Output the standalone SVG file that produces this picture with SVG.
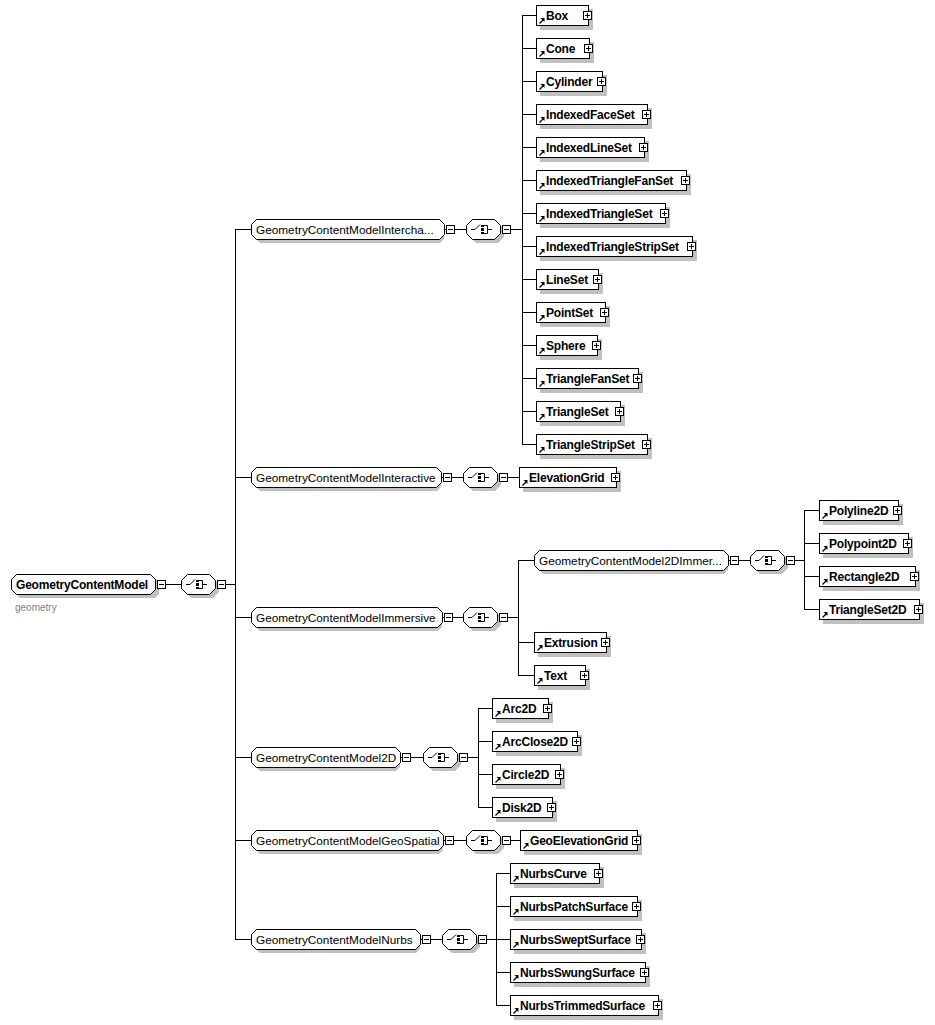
<svg xmlns="http://www.w3.org/2000/svg" xmlns:xlink="http://www.w3.org/1999/xlink" width="935" height="1025" viewBox="0 0 935 1025">
<style>
.sh{fill:#c0c0c0;stroke:none}
.bx{fill:#fff;stroke:#000;stroke-width:1}
.ln{fill:none;stroke:#000;stroke-width:1}
.el{font-family:"Liberation Sans",Arial,sans-serif;font-size:12px;font-weight:bold;letter-spacing:-0.2px;fill:#000}
.gl{font-family:"Liberation Sans",Arial,sans-serif;font-size:11.8px;fill:#000}
.rt{font-family:"Liberation Sans",Arial,sans-serif;font-size:12px;font-weight:bold;letter-spacing:-0.2px;fill:#000}
.ns{font-family:"Liberation Sans",Arial,sans-serif;font-size:10px;fill:#808080}
</style>
<defs>
<g id="plus"><rect class="bx" x="0.5" y="-3.5" width="8" height="8"/><path class="ln" d="M2 0.5H7M4.5 -2V3"/></g>
<g id="minus"><rect class="bx" x="0.5" y="-3.5" width="8" height="8"/><path class="ln" d="M2 0.5H7"/></g>
<g id="ref"><path d="M3.5 8.5L7 5" stroke="#000" stroke-width="1.3" fill="none"/><polygon points="4.5,3 8.5,3 8.5,7" fill="#000"/></g>
<g id="seq">
<path class="sh" d="M10 -6H32L38 0V8L32 14H10L4 8V0Z"/>
<path class="bx" d="M6.5 -9.5H28.5L34.5 -3.5V4.5L28.5 10.5H6.5L0.5 4.5V-3.5Z"/>
<path class="ln" d="M5 0.5H9L14 -4.5"/>
<rect x="15" y="-4" width="3" height="2" fill="#000"/>
<rect x="15" y="-1" width="3" height="3" fill="#000"/>
<rect x="15" y="3" width="3" height="2" fill="#000"/>
<path class="ln" d="M18 -3.5H21.5V4.5H18M21.5 0.5H26"/>
</g>
</defs>

<g id="connectors">
<path class="ln" d="M155 584.5H235M235.5 229.5V939.5M235 229.5H251M235 477.5H251M235 617.5H251M235 757.5H251M235 840.5H251M235 939.5H251"/>
<path class="ln" d="M444 229.5H522M522.5 15.5V444.5M522 15.5H536M522 48.5H536M522 81.5H536M522 114.5H536M522 147.5H536M522 180.5H536M522 213.5H536M522 246.5H536M522 279.5H536M522 312.5H536M522 345.5H536M522 378.5H536M522 411.5H536M522 444.5H536"/>
<path class="ln" d="M441 477.5H519"/>
<path class="ln" d="M442 617.5H518M518.5 560.5V675.5M518 560.5H534M518 642.5H534M518 675.5H534"/>
<path class="ln" d="M728 560.5H804M804.5 510.5V609.5M804 510.5H819M804 543.5H819M804 576.5H819M804 609.5H819"/>
<path class="ln" d="M400 757.5H478M478.5 708.5V807.5M478 708.5H492M478 741.5H492M478 774.5H492M478 807.5H492"/>
<path class="ln" d="M443 840.5H520"/>
<path class="ln" d="M420 939.5H496M496.5 873.5V1005.5M496 873.5H510M496 906.5H510M496 939.5H510M496 972.5H510M496 1005.5H510"/>
</g>

<g id="root" transform="translate(11,584)">
<path class="sh" d="M9 -6H144L148 -2V10L144 14H9L5 10V-2Z"/>
<path class="bx" d="M5.5 -9.5H139.5L144.5 -4.5V5.5L139.5 10.5H5.5L0.5 5.5V-4.5Z"/>
<text class="rt" x="5" y="5">GeometryContentModel</text>
<use xlink:href="#minus" x="146" y="0"/>
<text class="ns" x="4" y="27">geometry</text>
</g>
<g id="root-seq" transform="translate(181,584)"><use xlink:href="#seq"/><use xlink:href="#minus" x="36" y="0"/></g>

<g id="g-interchange" transform="translate(251,229)">
<path class="sh" d="M9 -6H189L193 -2V10L189 14H9L5 10V-2Z"/>
<path class="bx" d="M5.5 -9.5H188.5L193.5 -4.5V5.5L188.5 10.5H5.5L0.5 5.5V-4.5Z"/>
<text class="gl" x="5" y="5">GeometryContentModelIntercha...</text>
<use xlink:href="#minus" x="195" y="0"/>
</g>
<g id="g-interchange-seq" transform="translate(466,229)"><use xlink:href="#seq"/><use xlink:href="#minus" x="36" y="0"/></g>

<g id="g-interactive" transform="translate(251,477)">
<path class="sh" d="M9 -6H186L190 -2V10L186 14H9L5 10V-2Z"/>
<path class="bx" d="M5.5 -9.5H185.5L190.5 -4.5V5.5L185.5 10.5H5.5L0.5 5.5V-4.5Z"/>
<text class="gl" x="5" y="5">GeometryContentModelInteractive</text>
<use xlink:href="#minus" x="192" y="0"/>
</g>
<g id="g-interactive-seq" transform="translate(463,477)"><use xlink:href="#seq"/><use xlink:href="#minus" x="36" y="0"/></g>

<g id="g-immersive" transform="translate(251,617)">
<path class="sh" d="M9 -6H187L191 -2V10L187 14H9L5 10V-2Z"/>
<path class="bx" d="M5.5 -9.5H186.5L191.5 -4.5V5.5L186.5 10.5H5.5L0.5 5.5V-4.5Z"/>
<text class="gl" x="5" y="5">GeometryContentModelImmersive</text>
<use xlink:href="#minus" x="193" y="0"/>
</g>
<g id="g-immersive-seq" transform="translate(463,617)"><use xlink:href="#seq"/><use xlink:href="#minus" x="36" y="0"/></g>

<g id="g-2dimmersive" transform="translate(534,560)">
<path class="sh" d="M9 -6H190L194 -2V10L190 14H9L5 10V-2Z"/>
<path class="bx" d="M5.5 -9.5H189.5L194.5 -4.5V5.5L189.5 10.5H5.5L0.5 5.5V-4.5Z"/>
<text class="gl" x="5" y="5">GeometryContentModel2DImmer...</text>
<use xlink:href="#minus" x="196" y="0"/>
</g>
<g id="g-2dimmersive-seq" transform="translate(750,560)"><use xlink:href="#seq"/><use xlink:href="#minus" x="36" y="0"/></g>

<g id="g-2d" transform="translate(251,757)">
<path class="sh" d="M9 -6H145L149 -2V10L145 14H9L5 10V-2Z"/>
<path class="bx" d="M5.5 -9.5H144.5L149.5 -4.5V5.5L144.5 10.5H5.5L0.5 5.5V-4.5Z"/>
<text class="gl" x="5" y="5">GeometryContentModel2D</text>
<use xlink:href="#minus" x="151" y="0"/>
</g>
<g id="g-2d-seq" transform="translate(423,757)"><use xlink:href="#seq"/><use xlink:href="#minus" x="36" y="0"/></g>

<g id="g-geospatial" transform="translate(251,840)">
<path class="sh" d="M9 -6H188L192 -2V10L188 14H9L5 10V-2Z"/>
<path class="bx" d="M5.5 -9.5H187.5L192.5 -4.5V5.5L187.5 10.5H5.5L0.5 5.5V-4.5Z"/>
<text class="gl" x="5" y="5">GeometryContentModelGeoSpatial</text>
<use xlink:href="#minus" x="194" y="0"/>
</g>
<g id="g-geospatial-seq" transform="translate(466,840)"><use xlink:href="#seq"/><use xlink:href="#minus" x="36" y="0"/></g>

<g id="g-nurbs" transform="translate(251,939)">
<path class="sh" d="M9 -6H165L169 -2V10L165 14H9L5 10V-2Z"/>
<path class="bx" d="M5.5 -9.5H164.5L169.5 -4.5V5.5L164.5 10.5H5.5L0.5 5.5V-4.5Z"/>
<text class="gl" x="5" y="5">GeometryContentModelNurbs</text>
<use xlink:href="#minus" x="171" y="0"/>
</g>
<g id="g-nurbs-seq" transform="translate(442,939)"><use xlink:href="#seq"/><use xlink:href="#minus" x="36" y="0"/></g>

<g id="e-Box" transform="translate(536,15)"><rect class="sh" x="4" y="-6" width="53" height="21"/><rect class="bx" x="0.5" y="-9.5" width="52" height="20"/><use xlink:href="#ref"/><text class="el" x="10" y="5">Box</text><use xlink:href="#plus" x="47" y="0"/></g>
<g id="e-Cone" transform="translate(536,48)"><rect class="sh" x="4" y="-6" width="54" height="21"/><rect class="bx" x="0.5" y="-9.5" width="53" height="20"/><use xlink:href="#ref"/><text class="el" x="10" y="5">Cone</text><use xlink:href="#plus" x="48" y="0"/></g>
<g id="e-Cylinder" transform="translate(536,81)"><rect class="sh" x="4" y="-6" width="67" height="21"/><rect class="bx" x="0.5" y="-9.5" width="66" height="20"/><use xlink:href="#ref"/><text class="el" x="10" y="5">Cylinder</text><use xlink:href="#plus" x="61" y="0"/></g>
<g id="e-IndexedFaceSet" transform="translate(536,114)"><rect class="sh" x="4" y="-6" width="112" height="21"/><rect class="bx" x="0.5" y="-9.5" width="111" height="20"/><use xlink:href="#ref"/><text class="el" x="10" y="5">IndexedFaceSet</text><use xlink:href="#plus" x="106" y="0"/></g>
<g id="e-IndexedLineSet" transform="translate(536,147)"><rect class="sh" x="4" y="-6" width="109" height="21"/><rect class="bx" x="0.5" y="-9.5" width="108" height="20"/><use xlink:href="#ref"/><text class="el" x="10" y="5">IndexedLineSet</text><use xlink:href="#plus" x="103" y="0"/></g>
<g id="e-IndexedTriangleFanSet" transform="translate(536,180)"><rect class="sh" x="4" y="-6" width="151" height="21"/><rect class="bx" x="0.5" y="-9.5" width="150" height="20"/><use xlink:href="#ref"/><text class="el" x="10" y="5">IndexedTriangleFanSet</text><use xlink:href="#plus" x="145" y="0"/></g>
<g id="e-IndexedTriangleSet" transform="translate(536,213)"><rect class="sh" x="4" y="-6" width="130" height="21"/><rect class="bx" x="0.5" y="-9.5" width="129" height="20"/><use xlink:href="#ref"/><text class="el" x="10" y="5">IndexedTriangleSet</text><use xlink:href="#plus" x="124" y="0"/></g>
<g id="e-IndexedTriangleStripSet" transform="translate(536,246)"><rect class="sh" x="4" y="-6" width="157" height="21"/><rect class="bx" x="0.5" y="-9.5" width="156" height="20"/><use xlink:href="#ref"/><text class="el" x="10" y="5">IndexedTriangleStripSet</text><use xlink:href="#plus" x="151" y="0"/></g>
<g id="e-LineSet" transform="translate(536,279)"><rect class="sh" x="4" y="-6" width="63" height="21"/><rect class="bx" x="0.5" y="-9.5" width="62" height="20"/><use xlink:href="#ref"/><text class="el" x="10" y="5">LineSet</text><use xlink:href="#plus" x="57" y="0"/></g>
<g id="e-PointSet" transform="translate(536,312)"><rect class="sh" x="4" y="-6" width="70" height="21"/><rect class="bx" x="0.5" y="-9.5" width="69" height="20"/><use xlink:href="#ref"/><text class="el" x="10" y="5">PointSet</text><use xlink:href="#plus" x="64" y="0"/></g>
<g id="e-Sphere" transform="translate(536,345)"><rect class="sh" x="4" y="-6" width="62" height="21"/><rect class="bx" x="0.5" y="-9.5" width="61" height="20"/><use xlink:href="#ref"/><text class="el" x="10" y="5">Sphere</text><use xlink:href="#plus" x="56" y="0"/></g>
<g id="e-TriangleFanSet" transform="translate(536,378)"><rect class="sh" x="4" y="-6" width="103" height="21"/><rect class="bx" x="0.5" y="-9.5" width="102" height="20"/><use xlink:href="#ref"/><text class="el" x="10" y="5">TriangleFanSet</text><use xlink:href="#plus" x="97" y="0"/></g>
<g id="e-TriangleSet" transform="translate(536,411)"><rect class="sh" x="4" y="-6" width="85" height="21"/><rect class="bx" x="0.5" y="-9.5" width="84" height="20"/><use xlink:href="#ref"/><text class="el" x="10" y="5">TriangleSet</text><use xlink:href="#plus" x="79" y="0"/></g>
<g id="e-TriangleStripSet" transform="translate(536,444)"><rect class="sh" x="4" y="-6" width="112" height="21"/><rect class="bx" x="0.5" y="-9.5" width="111" height="20"/><use xlink:href="#ref"/><text class="el" x="10" y="5">TriangleStripSet</text><use xlink:href="#plus" x="106" y="0"/></g>

<g id="e-ElevationGrid" transform="translate(519,477)"><rect class="sh" x="4" y="-6" width="98" height="21"/><rect class="bx" x="0.5" y="-9.5" width="97" height="20"/><use xlink:href="#ref"/><text class="el" x="10" y="5">ElevationGrid</text><use xlink:href="#plus" x="92" y="0"/></g>

<g id="e-Polyline2D" transform="translate(819,510)"><rect class="sh" x="4" y="-6" width="80" height="21"/><rect class="bx" x="0.5" y="-9.5" width="79" height="20"/><use xlink:href="#ref"/><text class="el" x="10" y="5">Polyline2D</text><use xlink:href="#plus" x="74" y="0"/></g>
<g id="e-Polypoint2D" transform="translate(819,543)"><rect class="sh" x="4" y="-6" width="90" height="21"/><rect class="bx" x="0.5" y="-9.5" width="89" height="20"/><use xlink:href="#ref"/><text class="el" x="10" y="5">Polypoint2D</text><use xlink:href="#plus" x="84" y="0"/></g>
<g id="e-Rectangle2D" transform="translate(819,576)"><rect class="sh" x="4" y="-6" width="97" height="21"/><rect class="bx" x="0.5" y="-9.5" width="96" height="20"/><use xlink:href="#ref"/><text class="el" x="10" y="5">Rectangle2D</text><use xlink:href="#plus" x="91" y="0"/></g>
<g id="e-TriangleSet2D" transform="translate(819,609)"><rect class="sh" x="4" y="-6" width="101" height="21"/><rect class="bx" x="0.5" y="-9.5" width="100" height="20"/><use xlink:href="#ref"/><text class="el" x="10" y="5">TriangleSet2D</text><use xlink:href="#plus" x="95" y="0"/></g>

<g id="e-Extrusion" transform="translate(534,642)"><rect class="sh" x="4" y="-6" width="73" height="21"/><rect class="bx" x="0.5" y="-9.5" width="72" height="20"/><use xlink:href="#ref"/><text class="el" x="10" y="5">Extrusion</text><use xlink:href="#plus" x="67" y="0"/></g>
<g id="e-Text" transform="translate(534,675)"><rect class="sh" x="4" y="-6" width="52" height="21"/><rect class="bx" x="0.5" y="-9.5" width="51" height="20"/><use xlink:href="#ref"/><text class="el" x="10" y="5">Text</text><use xlink:href="#plus" x="46" y="0"/></g>

<g id="e-Arc2D" transform="translate(492,708)"><rect class="sh" x="4" y="-6" width="57" height="21"/><rect class="bx" x="0.5" y="-9.5" width="56" height="20"/><use xlink:href="#ref"/><text class="el" x="10" y="5">Arc2D</text><use xlink:href="#plus" x="51" y="0"/></g>
<g id="e-ArcClose2D" transform="translate(492,741)"><rect class="sh" x="4" y="-6" width="86" height="21"/><rect class="bx" x="0.5" y="-9.5" width="85" height="20"/><use xlink:href="#ref"/><text class="el" x="10" y="5">ArcClose2D</text><use xlink:href="#plus" x="80" y="0"/></g>
<g id="e-Circle2D" transform="translate(492,774)"><rect class="sh" x="4" y="-6" width="69" height="21"/><rect class="bx" x="0.5" y="-9.5" width="68" height="20"/><use xlink:href="#ref"/><text class="el" x="10" y="5">Circle2D</text><use xlink:href="#plus" x="63" y="0"/></g>
<g id="e-Disk2D" transform="translate(492,807)"><rect class="sh" x="4" y="-6" width="61" height="21"/><rect class="bx" x="0.5" y="-9.5" width="60" height="20"/><use xlink:href="#ref"/><text class="el" x="10" y="5">Disk2D</text><use xlink:href="#plus" x="55" y="0"/></g>

<g id="e-GeoElevationGrid" transform="translate(520,840)"><rect class="sh" x="4" y="-6" width="118" height="21"/><rect class="bx" x="0.5" y="-9.5" width="117" height="20"/><use xlink:href="#ref"/><text class="el" x="10" y="5">GeoElevationGrid</text><use xlink:href="#plus" x="112" y="0"/></g>

<g id="e-NurbsCurve" transform="translate(510,873)"><rect class="sh" x="4" y="-6" width="90" height="21"/><rect class="bx" x="0.5" y="-9.5" width="89" height="20"/><use xlink:href="#ref"/><text class="el" x="10" y="5">NurbsCurve</text><use xlink:href="#plus" x="84" y="0"/></g>
<g id="e-NurbsPatchSurface" transform="translate(510,906)"><rect class="sh" x="4" y="-6" width="128" height="21"/><rect class="bx" x="0.5" y="-9.5" width="127" height="20"/><use xlink:href="#ref"/><text class="el" x="10" y="5">NurbsPatchSurface</text><use xlink:href="#plus" x="122" y="0"/></g>
<g id="e-NurbsSweptSurface" transform="translate(510,939)"><rect class="sh" x="4" y="-6" width="132" height="21"/><rect class="bx" x="0.5" y="-9.5" width="131" height="20"/><use xlink:href="#ref"/><text class="el" x="10" y="5">NurbsSweptSurface</text><use xlink:href="#plus" x="126" y="0"/></g>
<g id="e-NurbsSwungSurface" transform="translate(510,972)"><rect class="sh" x="4" y="-6" width="136" height="21"/><rect class="bx" x="0.5" y="-9.5" width="135" height="20"/><use xlink:href="#ref"/><text class="el" x="10" y="5">NurbsSwungSurface</text><use xlink:href="#plus" x="130" y="0"/></g>
<g id="e-NurbsTrimmedSurface" transform="translate(510,1005)"><rect class="sh" x="4" y="-6" width="149" height="21"/><rect class="bx" x="0.5" y="-9.5" width="148" height="20"/><use xlink:href="#ref"/><text class="el" x="10" y="5">NurbsTrimmedSurface</text><use xlink:href="#plus" x="143" y="0"/></g>
</svg>
